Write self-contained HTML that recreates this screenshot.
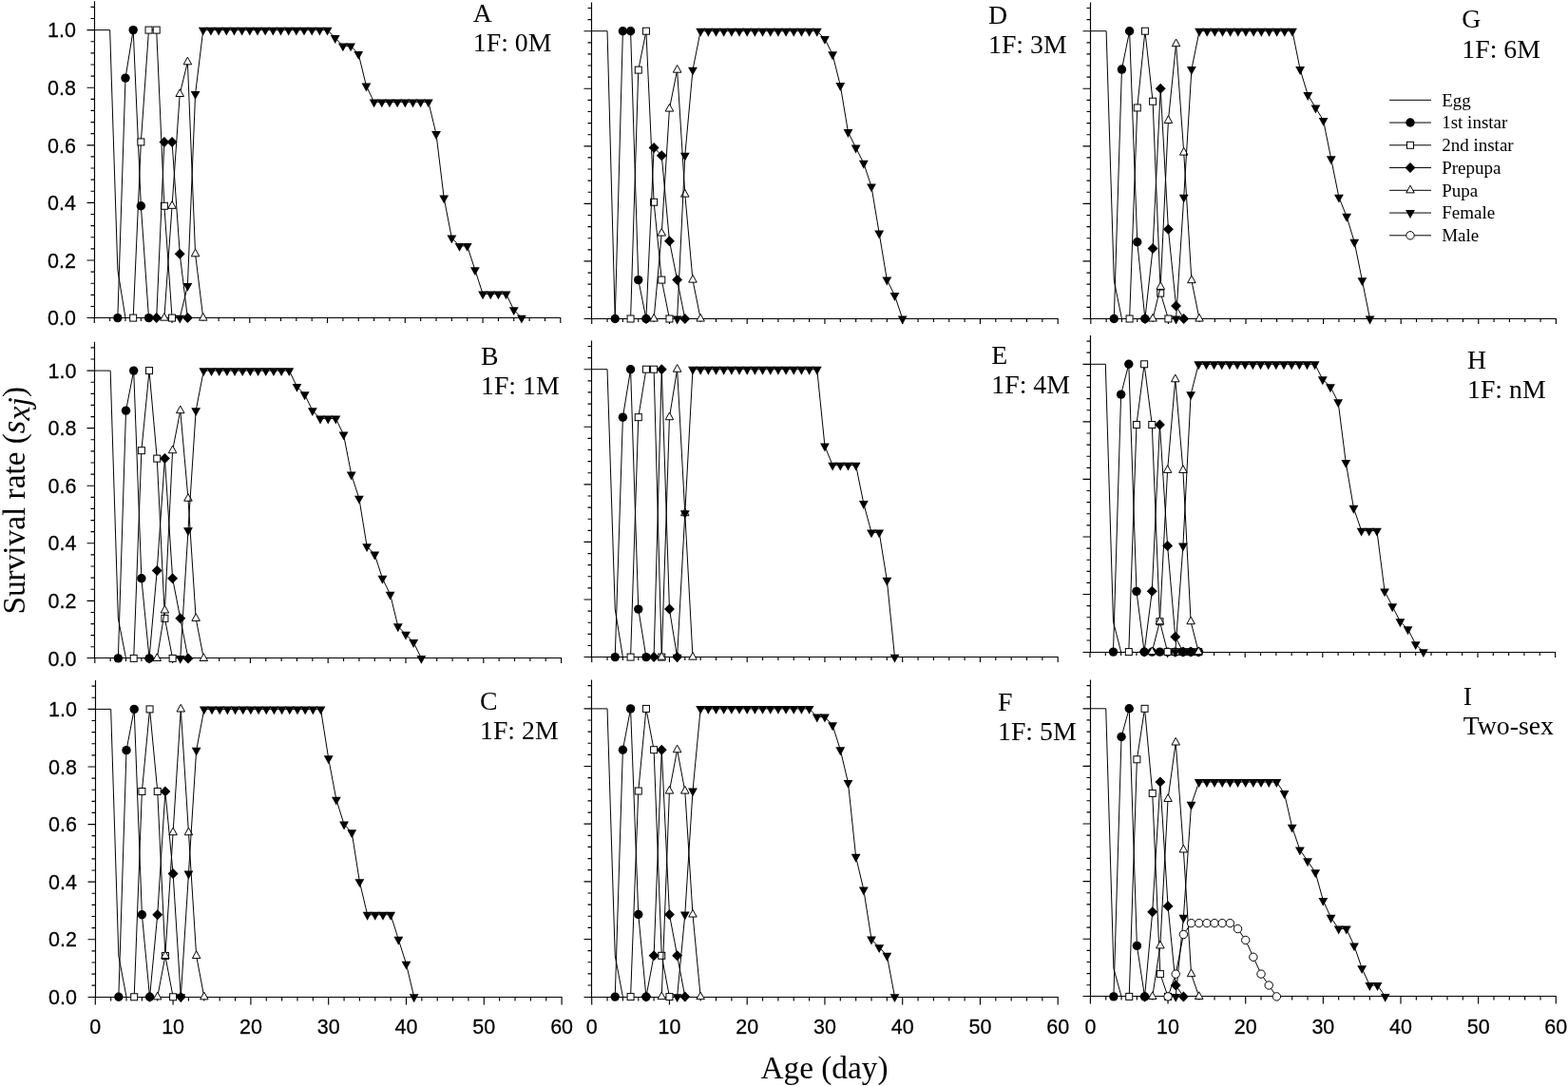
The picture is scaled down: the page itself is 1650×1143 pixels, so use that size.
<!DOCTYPE html>
<html lang="en"><head><meta charset="utf-8"><title>Age-stage survival rate</title>
<style>html,body{margin:0;padding:0;background:#fff}svg{display:block}text{fill:#000}.t{font-family:'Liberation Sans', Arial, Helvetica, sans-serif;font-size:21.5px;stroke:#000;stroke-width:0.25px}.p{font-family:'Liberation Serif', 'Times New Roman', Times, serif;font-size:27.8px}.l{font-family:'Liberation Serif', 'Times New Roman', Times, serif;font-size:19px}.a{font-family:'Liberation Serif', 'Times New Roman', Times, serif;font-size:33.3px}</style>
</head><body>
<svg width="1650" height="1143" viewBox="0 0 1650 1143">
<rect width="1650" height="1143" fill="#fff"/>
<g id="panel-A">
<path d="M99.5 1.3V334.5M91.5 334.5H590.3M95.5 322.48H99.5M95.5 310.36H99.5M95.5 298.24H99.5M95.5 286.12H99.5M91.5 274H99.5M95.5 261.88H99.5M95.5 249.76H99.5M95.5 237.64H99.5M95.5 225.52H99.5M91.5 213.4H99.5M95.5 201.28H99.5M95.5 189.16H99.5M95.5 177.04H99.5M95.5 164.92H99.5M91.5 152.8H99.5M95.5 140.68H99.5M95.5 128.56H99.5M95.5 116.44H99.5M95.5 104.32H99.5M91.5 92.2H99.5M95.5 80.08H99.5M95.5 67.96H99.5M95.5 55.84H99.5M95.5 43.72H99.5M91.5 31.6H99.5M95.5 19.48H99.5M95.5 7.36H99.5M99.3 334.5V340M115.65 334.5V338.1M132 334.5V338.1M148.35 334.5V338.1M164.7 334.5V338.1M181.05 334.5V340M197.4 334.5V338.1M213.75 334.5V338.1M230.1 334.5V338.1M246.45 334.5V338.1M262.8 334.5V340M279.15 334.5V338.1M295.5 334.5V338.1M311.85 334.5V338.1M328.2 334.5V338.1M344.55 334.5V340M360.9 334.5V338.1M377.25 334.5V338.1M393.6 334.5V338.1M409.95 334.5V338.1M426.3 334.5V340M442.65 334.5V338.1M459 334.5V338.1M475.35 334.5V338.1M491.7 334.5V338.1M508.05 334.5V340M524.4 334.5V338.1M540.75 334.5V338.1M557.1 334.5V338.1M573.45 334.5V338.1M589.8 334.5V340" fill="none" stroke="#000" stroke-width="1.15"/>
<text class="t" transform="translate(80 342.3) scale(1 1.04)" text-anchor="end">0.0</text>
<text class="t" transform="translate(80 281.7) scale(1 1.04)" text-anchor="end">0.2</text>
<text class="t" transform="translate(80 221.1) scale(1 1.04)" text-anchor="end">0.4</text>
<text class="t" transform="translate(80 160.5) scale(1 1.04)" text-anchor="end">0.6</text>
<text class="t" transform="translate(80 99.9) scale(1 1.04)" text-anchor="end">0.8</text>
<text class="t" transform="translate(80 39.3) scale(1 1.04)" text-anchor="end">1.0</text>
<polyline points="99.3,31.6 115.65,31.6 123.83,284.1 132,334.6" fill="none" stroke="#000" stroke-width="1.0" stroke-linejoin="round"/>
<polyline points="123.83,334.6 132,82.1 140.18,31.6 148.35,216.77 156.53,334.6" fill="none" stroke="#000" stroke-width="1.0" stroke-linejoin="round"/>
<circle cx="123.83" cy="334.6" r="4.7" fill="#000"/><circle cx="132" cy="82.1" r="4.7" fill="#000"/><circle cx="140.18" cy="31.6" r="4.7" fill="#000"/><circle cx="148.35" cy="216.77" r="4.7" fill="#000"/><circle cx="156.53" cy="334.6" r="4.7" fill="#000"/>
<polyline points="140.18,334.6 148.35,149.43 156.53,31.6 164.7,31.6 172.88,216.77 181.05,334.6" fill="none" stroke="#000" stroke-width="1.0" stroke-linejoin="round"/>
<rect x="136.68" y="331.1" width="7" height="7" fill="#fff" stroke="#000" stroke-width="1"/><rect x="144.85" y="145.93" width="7" height="7" fill="#fff" stroke="#000" stroke-width="1"/><rect x="153.03" y="28.1" width="7" height="7" fill="#fff" stroke="#000" stroke-width="1"/><rect x="161.2" y="28.1" width="7" height="7" fill="#fff" stroke="#000" stroke-width="1"/><rect x="169.38" y="213.27" width="7" height="7" fill="#fff" stroke="#000" stroke-width="1"/><rect x="177.55" y="331.1" width="7" height="7" fill="#fff" stroke="#000" stroke-width="1"/>
<polyline points="164.7,334.6 172.88,149.43 181.05,149.43 189.23,267.27 197.4,334.6" fill="none" stroke="#000" stroke-width="1.0" stroke-linejoin="round"/>
<polygon points="164.7,329.1 170.15,334.6 164.7,340.1 159.25,334.6" fill="#000"/><polygon points="172.88,143.93 178.32,149.43 172.88,154.93 167.43,149.43" fill="#000"/><polygon points="181.05,143.93 186.5,149.43 181.05,154.93 175.6,149.43" fill="#000"/><polygon points="189.23,261.77 194.68,267.27 189.23,272.77 183.78,267.27" fill="#000"/><polygon points="197.4,329.1 202.85,334.6 197.4,340.1 191.95,334.6" fill="#000"/>
<polyline points="172.88,334.6 181.05,216.77 189.23,98.93 197.4,65.27 205.57,267.27 213.75,334.6" fill="none" stroke="#000" stroke-width="1.0" stroke-linejoin="round"/>
<polygon points="172.88,329.5 168.62,337.17 177.13,337.17" fill="#fff" stroke="#000" stroke-width="1" stroke-linejoin="miter"/><polygon points="181.05,211.66 176.8,219.33 185.3,219.33" fill="#fff" stroke="#000" stroke-width="1" stroke-linejoin="miter"/><polygon points="189.23,93.83 184.97,101.5 193.48,101.5" fill="#fff" stroke="#000" stroke-width="1" stroke-linejoin="miter"/><polygon points="197.4,60.16 193.15,67.83 201.65,67.83" fill="#fff" stroke="#000" stroke-width="1" stroke-linejoin="miter"/><polygon points="205.57,262.16 201.32,269.83 209.83,269.83" fill="#fff" stroke="#000" stroke-width="1" stroke-linejoin="miter"/><polygon points="213.75,329.5 209.5,337.17 218,337.17" fill="#fff" stroke="#000" stroke-width="1" stroke-linejoin="miter"/>
<polyline points="189.23,334.6 197.4,300.93 205.57,98.93 213.75,31.6 221.93,31.6 230.1,31.6 238.28,31.6 246.45,31.6 254.62,31.6 262.8,31.6 270.98,31.6 279.15,31.6 287.32,31.6 295.5,31.6 303.68,31.6 311.85,31.6 320.03,31.6 328.2,31.6 336.38,31.6 344.55,31.6 352.73,40.02 360.9,48.43 369.08,48.43 377.25,56.85 385.43,90.52 393.6,107.35 401.78,107.35 409.95,107.35 418.13,107.35 426.3,107.35 434.48,107.35 442.65,107.35 450.83,107.35 459,141.02 467.18,208.35 475.35,250.43 483.53,258.85 491.7,258.85 499.88,284.1 508.05,309.35 516.23,309.35 524.4,309.35 532.58,309.35 540.75,326.18 548.93,334.6" fill="none" stroke="#000" stroke-width="1.0" stroke-linejoin="round"/>
<polygon points="184.33,331.63 194.13,331.63 189.23,340.53" fill="#000"/><polygon points="192.5,297.97 202.3,297.97 197.4,306.87" fill="#000"/><polygon points="200.67,95.97 210.47,95.97 205.57,104.87" fill="#000"/><polygon points="208.85,28.63 218.65,28.63 213.75,37.53" fill="#000"/><polygon points="217.03,28.63 226.83,28.63 221.93,37.53" fill="#000"/><polygon points="225.2,28.63 235,28.63 230.1,37.53" fill="#000"/><polygon points="233.38,28.63 243.18,28.63 238.28,37.53" fill="#000"/><polygon points="241.55,28.63 251.35,28.63 246.45,37.53" fill="#000"/><polygon points="249.72,28.63 259.52,28.63 254.62,37.53" fill="#000"/><polygon points="257.9,28.63 267.7,28.63 262.8,37.53" fill="#000"/><polygon points="266.08,28.63 275.88,28.63 270.98,37.53" fill="#000"/><polygon points="274.25,28.63 284.05,28.63 279.15,37.53" fill="#000"/><polygon points="282.43,28.63 292.22,28.63 287.32,37.53" fill="#000"/><polygon points="290.6,28.63 300.4,28.63 295.5,37.53" fill="#000"/><polygon points="298.78,28.63 308.57,28.63 303.68,37.53" fill="#000"/><polygon points="306.95,28.63 316.75,28.63 311.85,37.53" fill="#000"/><polygon points="315.13,28.63 324.93,28.63 320.03,37.53" fill="#000"/><polygon points="323.3,28.63 333.1,28.63 328.2,37.53" fill="#000"/><polygon points="331.48,28.63 341.27,28.63 336.38,37.53" fill="#000"/><polygon points="339.65,28.63 349.45,28.63 344.55,37.53" fill="#000"/><polygon points="347.83,37.05 357.62,37.05 352.73,45.95" fill="#000"/><polygon points="356,45.47 365.8,45.47 360.9,54.37" fill="#000"/><polygon points="364.18,45.47 373.98,45.47 369.08,54.37" fill="#000"/><polygon points="372.35,53.88 382.15,53.88 377.25,62.78" fill="#000"/><polygon points="380.53,87.55 390.32,87.55 385.43,96.45" fill="#000"/><polygon points="388.7,104.38 398.5,104.38 393.6,113.28" fill="#000"/><polygon points="396.88,104.38 406.68,104.38 401.78,113.28" fill="#000"/><polygon points="405.05,104.38 414.85,104.38 409.95,113.28" fill="#000"/><polygon points="413.23,104.38 423.03,104.38 418.13,113.28" fill="#000"/><polygon points="421.4,104.38 431.2,104.38 426.3,113.28" fill="#000"/><polygon points="429.58,104.38 439.38,104.38 434.48,113.28" fill="#000"/><polygon points="437.75,104.38 447.55,104.38 442.65,113.28" fill="#000"/><polygon points="445.93,104.38 455.73,104.38 450.83,113.28" fill="#000"/><polygon points="454.1,138.05 463.9,138.05 459,146.95" fill="#000"/><polygon points="462.28,205.38 472.08,205.38 467.18,214.28" fill="#000"/><polygon points="470.45,247.47 480.25,247.47 475.35,256.37" fill="#000"/><polygon points="478.63,255.88 488.43,255.88 483.53,264.78" fill="#000"/><polygon points="486.8,255.88 496.6,255.88 491.7,264.78" fill="#000"/><polygon points="494.98,281.13 504.78,281.13 499.88,290.03" fill="#000"/><polygon points="503.15,306.38 512.95,306.38 508.05,315.28" fill="#000"/><polygon points="511.33,306.38 521.12,306.38 516.23,315.28" fill="#000"/><polygon points="519.5,306.38 529.3,306.38 524.4,315.28" fill="#000"/><polygon points="527.68,306.38 537.48,306.38 532.58,315.28" fill="#000"/><polygon points="535.85,323.22 545.65,323.22 540.75,332.12" fill="#000"/><polygon points="544.03,331.63 553.83,331.63 548.93,340.53" fill="#000"/>
<text class="p" x="497.8" y="23.1">A</text>
<text class="p" x="497.8" y="54.4">1F: 0M</text>
</g>
<g id="panel-B">
<path d="M99.5 359.82V692.5M91.5 692.5H591.1M95.5 680.79H99.5M95.5 668.68H99.5M95.5 656.56H99.5M95.5 644.45H99.5M91.5 632.34H99.5M95.5 620.23H99.5M95.5 608.12H99.5M95.5 596H99.5M95.5 583.89H99.5M91.5 571.78H99.5M95.5 559.67H99.5M95.5 547.56H99.5M95.5 535.44H99.5M95.5 523.33H99.5M91.5 511.22H99.5M95.5 499.11H99.5M95.5 487H99.5M95.5 474.88H99.5M95.5 462.77H99.5M91.5 450.66H99.5M95.5 438.55H99.5M95.5 426.44H99.5M95.5 414.32H99.5M95.5 402.21H99.5M91.5 390.1H99.5M95.5 377.99H99.5M95.5 365.88H99.5M99.8 692.5V698M116.16 692.5V696.1M132.52 692.5V696.1M148.88 692.5V696.1M165.24 692.5V696.1M181.6 692.5V698M197.96 692.5V696.1M214.32 692.5V696.1M230.68 692.5V696.1M247.04 692.5V696.1M263.4 692.5V698M279.76 692.5V696.1M296.12 692.5V696.1M312.48 692.5V696.1M328.84 692.5V696.1M345.2 692.5V698M361.56 692.5V696.1M377.92 692.5V696.1M394.28 692.5V696.1M410.64 692.5V696.1M427 692.5V698M443.36 692.5V696.1M459.72 692.5V696.1M476.08 692.5V696.1M492.44 692.5V696.1M508.8 692.5V698M525.16 692.5V696.1M541.52 692.5V696.1M557.88 692.5V696.1M574.24 692.5V696.1M590.6 692.5V698" fill="none" stroke="#000" stroke-width="1.15"/>
<text class="t" transform="translate(80.5 700.6) scale(1 1.04)" text-anchor="end">0.0</text>
<text class="t" transform="translate(80.5 640.04) scale(1 1.04)" text-anchor="end">0.2</text>
<text class="t" transform="translate(80.5 579.48) scale(1 1.04)" text-anchor="end">0.4</text>
<text class="t" transform="translate(80.5 518.92) scale(1 1.04)" text-anchor="end">0.6</text>
<text class="t" transform="translate(80.5 458.36) scale(1 1.04)" text-anchor="end">0.8</text>
<text class="t" transform="translate(80.5 397.8) scale(1 1.04)" text-anchor="end">1.0</text>
<polyline points="99.8,390.1 116.16,390.1 124.34,650.84 132.52,692.9" fill="none" stroke="#000" stroke-width="1.0" stroke-linejoin="round"/>
<polyline points="124.34,692.9 132.52,432.16 140.7,390.1 148.88,608.79 157.06,692.9" fill="none" stroke="#000" stroke-width="1.0" stroke-linejoin="round"/>
<circle cx="124.34" cy="692.9" r="4.7" fill="#000"/><circle cx="132.52" cy="432.16" r="4.7" fill="#000"/><circle cx="140.7" cy="390.1" r="4.7" fill="#000"/><circle cx="148.88" cy="608.79" r="4.7" fill="#000"/><circle cx="157.06" cy="692.9" r="4.7" fill="#000"/>
<polyline points="140.7,692.9 148.88,474.21 157.06,390.1 165.24,482.62 173.42,650.84 181.6,692.9" fill="none" stroke="#000" stroke-width="1.0" stroke-linejoin="round"/>
<rect x="137.2" y="689.4" width="7" height="7" fill="#fff" stroke="#000" stroke-width="1"/><rect x="145.38" y="470.71" width="7" height="7" fill="#fff" stroke="#000" stroke-width="1"/><rect x="153.56" y="386.6" width="7" height="7" fill="#fff" stroke="#000" stroke-width="1"/><rect x="161.74" y="479.12" width="7" height="7" fill="#fff" stroke="#000" stroke-width="1"/><rect x="169.92" y="647.34" width="7" height="7" fill="#fff" stroke="#000" stroke-width="1"/><rect x="178.1" y="689.4" width="7" height="7" fill="#fff" stroke="#000" stroke-width="1"/>
<polyline points="157.06,692.9 165.24,600.38 173.42,482.62 181.6,608.79 189.78,650.84 197.96,692.9" fill="none" stroke="#000" stroke-width="1.0" stroke-linejoin="round"/>
<polygon points="157.06,687.4 162.51,692.9 157.06,698.4 151.61,692.9" fill="#000"/><polygon points="165.24,594.88 170.69,600.38 165.24,605.88 159.79,600.38" fill="#000"/><polygon points="173.42,477.12 178.87,482.62 173.42,488.12 167.97,482.62" fill="#000"/><polygon points="181.6,603.29 187.05,608.79 181.6,614.29 176.15,608.79" fill="#000"/><polygon points="189.78,645.34 195.23,650.84 189.78,656.34 184.33,650.84" fill="#000"/><polygon points="197.96,687.4 203.41,692.9 197.96,698.4 192.51,692.9" fill="#000"/>
<polyline points="165.24,692.9 173.42,642.43 181.6,474.21 189.78,432.16 197.96,524.68 206.14,650.84 214.32,692.9" fill="none" stroke="#000" stroke-width="1.0" stroke-linejoin="round"/>
<polygon points="165.24,687.8 160.99,695.47 169.49,695.47" fill="#fff" stroke="#000" stroke-width="1" stroke-linejoin="miter"/><polygon points="173.42,637.33 169.17,645 177.67,645" fill="#fff" stroke="#000" stroke-width="1" stroke-linejoin="miter"/><polygon points="181.6,469.11 177.35,476.78 185.85,476.78" fill="#fff" stroke="#000" stroke-width="1" stroke-linejoin="miter"/><polygon points="189.78,427.05 185.53,434.72 194.03,434.72" fill="#fff" stroke="#000" stroke-width="1" stroke-linejoin="miter"/><polygon points="197.96,519.58 193.71,527.24 202.21,527.24" fill="#fff" stroke="#000" stroke-width="1" stroke-linejoin="miter"/><polygon points="206.14,645.74 201.89,653.41 210.39,653.41" fill="#fff" stroke="#000" stroke-width="1" stroke-linejoin="miter"/><polygon points="214.32,687.8 210.07,695.47 218.57,695.47" fill="#fff" stroke="#000" stroke-width="1" stroke-linejoin="miter"/>
<polyline points="189.78,692.9 197.96,558.32 206.14,432.16 214.32,390.1 222.5,390.1 230.68,390.1 238.86,390.1 247.04,390.1 255.22,390.1 263.4,390.1 271.58,390.1 279.76,390.1 287.94,390.1 296.12,390.1 304.3,390.1 312.48,406.92 320.66,415.33 328.84,432.16 337.02,440.57 345.2,440.57 353.38,440.57 361.56,457.39 369.74,499.44 377.92,524.68 386.1,575.14 394.28,583.56 402.46,608.79 410.64,625.61 418.82,659.26 427,667.67 435.18,676.08 443.36,692.9" fill="none" stroke="#000" stroke-width="1.0" stroke-linejoin="round"/>
<polygon points="184.88,689.93 194.68,689.93 189.78,698.83" fill="#000"/><polygon points="193.06,555.36 202.86,555.36 197.96,564.26" fill="#000"/><polygon points="201.24,429.19 211.04,429.19 206.14,438.09" fill="#000"/><polygon points="209.42,387.13 219.22,387.13 214.32,396.03" fill="#000"/><polygon points="217.6,387.13 227.4,387.13 222.5,396.03" fill="#000"/><polygon points="225.78,387.13 235.58,387.13 230.68,396.03" fill="#000"/><polygon points="233.96,387.13 243.76,387.13 238.86,396.03" fill="#000"/><polygon points="242.14,387.13 251.94,387.13 247.04,396.03" fill="#000"/><polygon points="250.32,387.13 260.12,387.13 255.22,396.03" fill="#000"/><polygon points="258.5,387.13 268.3,387.13 263.4,396.03" fill="#000"/><polygon points="266.68,387.13 276.48,387.13 271.58,396.03" fill="#000"/><polygon points="274.86,387.13 284.66,387.13 279.76,396.03" fill="#000"/><polygon points="283.04,387.13 292.84,387.13 287.94,396.03" fill="#000"/><polygon points="291.22,387.13 301.02,387.13 296.12,396.03" fill="#000"/><polygon points="299.4,387.13 309.2,387.13 304.3,396.03" fill="#000"/><polygon points="307.58,403.96 317.38,403.96 312.48,412.86" fill="#000"/><polygon points="315.76,412.37 325.56,412.37 320.66,421.27" fill="#000"/><polygon points="323.94,429.19 333.74,429.19 328.84,438.09" fill="#000"/><polygon points="332.12,437.6 341.92,437.6 337.02,446.5" fill="#000"/><polygon points="340.3,437.6 350.1,437.6 345.2,446.5" fill="#000"/><polygon points="348.48,437.6 358.28,437.6 353.38,446.5" fill="#000"/><polygon points="356.66,454.42 366.46,454.42 361.56,463.32" fill="#000"/><polygon points="364.84,496.48 374.64,496.48 369.74,505.38" fill="#000"/><polygon points="373.02,521.71 382.82,521.71 377.92,530.61" fill="#000"/><polygon points="381.2,572.18 391,572.18 386.1,581.08" fill="#000"/><polygon points="389.38,580.59 399.18,580.59 394.28,589.49" fill="#000"/><polygon points="397.56,605.82 407.36,605.82 402.46,614.72" fill="#000"/><polygon points="405.74,622.64 415.54,622.64 410.64,631.54" fill="#000"/><polygon points="413.92,656.29 423.72,656.29 418.82,665.19" fill="#000"/><polygon points="422.1,664.7 431.9,664.7 427,673.6" fill="#000"/><polygon points="430.28,673.11 440.08,673.11 435.18,682.01" fill="#000"/><polygon points="438.46,689.93 448.26,689.93 443.36,698.83" fill="#000"/>
<text class="p" x="506" y="383.5">B</text>
<text class="p" x="506" y="414.8">1F: 1M</text>
</g>
<g id="panel-C">
<path d="M100.5 716.11V1049.5M92.5 1049.5H591.6M96.5 1037.18H100.5M96.5 1025.07H100.5M96.5 1012.95H100.5M96.5 1000.84H100.5M92.5 988.72H100.5M96.5 976.6H100.5M96.5 964.49H100.5M96.5 952.37H100.5M96.5 940.26H100.5M92.5 928.14H100.5M96.5 916.02H100.5M96.5 903.91H100.5M96.5 891.79H100.5M96.5 879.68H100.5M92.5 867.56H100.5M96.5 855.44H100.5M96.5 843.33H100.5M96.5 831.21H100.5M96.5 819.1H100.5M92.5 806.98H100.5M96.5 794.86H100.5M96.5 782.75H100.5M96.5 770.63H100.5M96.5 758.52H100.5M92.5 746.4H100.5M96.5 734.28H100.5M96.5 722.17H100.5M100.3 1049.5V1057.5M116.66 1049.5V1053.5M133.02 1049.5V1053.5M149.38 1049.5V1053.5M165.74 1049.5V1053.5M182.1 1049.5V1057.5M198.46 1049.5V1053.5M214.82 1049.5V1053.5M231.18 1049.5V1053.5M247.54 1049.5V1053.5M263.9 1049.5V1057.5M280.26 1049.5V1053.5M296.62 1049.5V1053.5M312.98 1049.5V1053.5M329.34 1049.5V1053.5M345.7 1049.5V1057.5M362.06 1049.5V1053.5M378.42 1049.5V1053.5M394.78 1049.5V1053.5M411.14 1049.5V1053.5M427.5 1049.5V1057.5M443.86 1049.5V1053.5M460.22 1049.5V1053.5M476.58 1049.5V1053.5M492.94 1049.5V1053.5M509.3 1049.5V1057.5M525.66 1049.5V1053.5M542.02 1049.5V1053.5M558.38 1049.5V1053.5M574.74 1049.5V1053.5M591.1 1049.5V1057.5" fill="none" stroke="#000" stroke-width="1.15"/>
<text class="t" transform="translate(81 1057) scale(1 1.04)" text-anchor="end">0.0</text>
<text class="t" transform="translate(81 996.42) scale(1 1.04)" text-anchor="end">0.2</text>
<text class="t" transform="translate(81 935.84) scale(1 1.04)" text-anchor="end">0.4</text>
<text class="t" transform="translate(81 875.26) scale(1 1.04)" text-anchor="end">0.6</text>
<text class="t" transform="translate(81 814.68) scale(1 1.04)" text-anchor="end">0.8</text>
<text class="t" transform="translate(81 754.1) scale(1 1.04)" text-anchor="end">1.0</text>
<text class="t" transform="translate(100.3 1087.9) scale(1 1.04)" text-anchor="middle">0</text>
<text class="t" transform="translate(182.1 1087.9) scale(1 1.04)" text-anchor="middle">10</text>
<text class="t" transform="translate(263.9 1087.9) scale(1 1.04)" text-anchor="middle">20</text>
<text class="t" transform="translate(345.7 1087.9) scale(1 1.04)" text-anchor="middle">30</text>
<text class="t" transform="translate(427.5 1087.9) scale(1 1.04)" text-anchor="middle">40</text>
<text class="t" transform="translate(509.3 1087.9) scale(1 1.04)" text-anchor="middle">50</text>
<text class="t" transform="translate(591.1 1087.9) scale(1 1.04)" text-anchor="middle">60</text>
<polyline points="100.3,746.4 116.66,746.4 124.84,1006.03 133.02,1049.3" fill="none" stroke="#000" stroke-width="1.0" stroke-linejoin="round"/>
<polyline points="124.84,1049.3 133.02,789.67 141.2,746.4 149.38,962.76 157.56,1049.3" fill="none" stroke="#000" stroke-width="1.0" stroke-linejoin="round"/>
<circle cx="124.84" cy="1049.3" r="4.7" fill="#000"/><circle cx="133.02" cy="789.67" r="4.7" fill="#000"/><circle cx="141.2" cy="746.4" r="4.7" fill="#000"/><circle cx="149.38" cy="962.76" r="4.7" fill="#000"/><circle cx="157.56" cy="1049.3" r="4.7" fill="#000"/>
<polyline points="141.2,1049.3 149.38,832.94 157.56,746.4 165.74,832.94 173.92,1006.03 182.1,1049.3" fill="none" stroke="#000" stroke-width="1.0" stroke-linejoin="round"/>
<rect x="137.7" y="1045.8" width="7" height="7" fill="#fff" stroke="#000" stroke-width="1"/><rect x="145.88" y="829.44" width="7" height="7" fill="#fff" stroke="#000" stroke-width="1"/><rect x="154.06" y="742.9" width="7" height="7" fill="#fff" stroke="#000" stroke-width="1"/><rect x="162.24" y="829.44" width="7" height="7" fill="#fff" stroke="#000" stroke-width="1"/><rect x="170.42" y="1002.53" width="7" height="7" fill="#fff" stroke="#000" stroke-width="1"/><rect x="178.6" y="1045.8" width="7" height="7" fill="#fff" stroke="#000" stroke-width="1"/>
<polyline points="157.56,1049.3 165.74,962.76 173.92,832.94 182.1,919.49 190.28,1049.3" fill="none" stroke="#000" stroke-width="1.0" stroke-linejoin="round"/>
<polygon points="157.56,1043.8 163.01,1049.3 157.56,1054.8 152.11,1049.3" fill="#000"/><polygon points="165.74,957.26 171.19,962.76 165.74,968.26 160.29,962.76" fill="#000"/><polygon points="173.92,827.44 179.37,832.94 173.92,838.44 168.47,832.94" fill="#000"/><polygon points="182.1,913.99 187.55,919.49 182.1,924.99 176.65,919.49" fill="#000"/><polygon points="190.28,1043.8 195.73,1049.3 190.28,1054.8 184.83,1049.3" fill="#000"/>
<polyline points="165.74,1049.3 173.92,1006.03 182.1,876.21 190.28,746.4 198.46,876.21 206.64,1006.03 214.82,1049.3" fill="none" stroke="#000" stroke-width="1.0" stroke-linejoin="round"/>
<polygon points="165.74,1044.2 161.49,1051.87 169.99,1051.87" fill="#fff" stroke="#000" stroke-width="1" stroke-linejoin="miter"/><polygon points="173.92,1000.93 169.67,1008.6 178.17,1008.6" fill="#fff" stroke="#000" stroke-width="1" stroke-linejoin="miter"/><polygon points="182.1,871.11 177.85,878.78 186.35,878.78" fill="#fff" stroke="#000" stroke-width="1" stroke-linejoin="miter"/><polygon points="190.28,741.3 186.03,748.97 194.53,748.97" fill="#fff" stroke="#000" stroke-width="1" stroke-linejoin="miter"/><polygon points="198.46,871.11 194.21,878.78 202.71,878.78" fill="#fff" stroke="#000" stroke-width="1" stroke-linejoin="miter"/><polygon points="206.64,1000.93 202.39,1008.6 210.89,1008.6" fill="#fff" stroke="#000" stroke-width="1" stroke-linejoin="miter"/><polygon points="214.82,1044.2 210.57,1051.87 219.07,1051.87" fill="#fff" stroke="#000" stroke-width="1" stroke-linejoin="miter"/>
<polyline points="190.28,1049.3 198.46,919.49 206.64,789.67 214.82,746.4 223,746.4 231.18,746.4 239.36,746.4 247.54,746.4 255.72,746.4 263.9,746.4 272.08,746.4 280.26,746.4 288.44,746.4 296.62,746.4 304.8,746.4 312.98,746.4 321.16,746.4 329.34,746.4 337.52,746.4 345.7,798.33 353.88,841.6 362.06,867.56 370.24,876.21 378.42,928.14 386.6,962.76 394.78,962.76 402.96,962.76 411.14,962.76 419.32,988.72 427.5,1014.68 435.68,1049.3" fill="none" stroke="#000" stroke-width="1.0" stroke-linejoin="round"/>
<polygon points="185.38,1046.33 195.18,1046.33 190.28,1055.23" fill="#000"/><polygon points="193.56,916.52 203.36,916.52 198.46,925.42" fill="#000"/><polygon points="201.74,786.7 211.54,786.7 206.64,795.6" fill="#000"/><polygon points="209.92,743.43 219.72,743.43 214.82,752.33" fill="#000"/><polygon points="218.1,743.43 227.9,743.43 223,752.33" fill="#000"/><polygon points="226.28,743.43 236.08,743.43 231.18,752.33" fill="#000"/><polygon points="234.46,743.43 244.26,743.43 239.36,752.33" fill="#000"/><polygon points="242.64,743.43 252.44,743.43 247.54,752.33" fill="#000"/><polygon points="250.82,743.43 260.62,743.43 255.72,752.33" fill="#000"/><polygon points="259,743.43 268.8,743.43 263.9,752.33" fill="#000"/><polygon points="267.18,743.43 276.98,743.43 272.08,752.33" fill="#000"/><polygon points="275.36,743.43 285.16,743.43 280.26,752.33" fill="#000"/><polygon points="283.54,743.43 293.34,743.43 288.44,752.33" fill="#000"/><polygon points="291.72,743.43 301.52,743.43 296.62,752.33" fill="#000"/><polygon points="299.9,743.43 309.7,743.43 304.8,752.33" fill="#000"/><polygon points="308.08,743.43 317.88,743.43 312.98,752.33" fill="#000"/><polygon points="316.26,743.43 326.06,743.43 321.16,752.33" fill="#000"/><polygon points="324.44,743.43 334.24,743.43 329.34,752.33" fill="#000"/><polygon points="332.62,743.43 342.42,743.43 337.52,752.33" fill="#000"/><polygon points="340.8,795.36 350.6,795.36 345.7,804.26" fill="#000"/><polygon points="348.98,838.63 358.78,838.63 353.88,847.53" fill="#000"/><polygon points="357.16,864.59 366.96,864.59 362.06,873.49" fill="#000"/><polygon points="365.34,873.25 375.14,873.25 370.24,882.15" fill="#000"/><polygon points="373.52,925.17 383.32,925.17 378.42,934.07" fill="#000"/><polygon points="381.7,959.79 391.5,959.79 386.6,968.69" fill="#000"/><polygon points="389.88,959.79 399.68,959.79 394.78,968.69" fill="#000"/><polygon points="398.06,959.79 407.86,959.79 402.96,968.69" fill="#000"/><polygon points="406.24,959.79 416.04,959.79 411.14,968.69" fill="#000"/><polygon points="414.42,985.75 424.22,985.75 419.32,994.65" fill="#000"/><polygon points="422.6,1011.72 432.4,1011.72 427.5,1020.62" fill="#000"/><polygon points="430.78,1046.33 440.58,1046.33 435.68,1055.23" fill="#000"/>
<text class="p" x="505" y="746.6">C</text>
<text class="p" x="505" y="777.8">1F: 2M</text>
</g>
<g id="panel-D">
<path d="M622.5 2.42V335.5M614.5 335.5H1113.7M618.5 323.39H622.5M618.5 311.28H622.5M618.5 299.16H622.5M618.5 287.05H622.5M614.5 274.94H622.5M618.5 262.83H622.5M618.5 250.72H622.5M618.5 238.6H622.5M618.5 226.49H622.5M614.5 214.38H622.5M618.5 202.27H622.5M618.5 190.16H622.5M618.5 178.04H622.5M618.5 165.93H622.5M614.5 153.82H622.5M618.5 141.71H622.5M618.5 129.6H622.5M618.5 117.48H622.5M618.5 105.37H622.5M614.5 93.26H622.5M618.5 81.15H622.5M618.5 69.04H622.5M618.5 56.92H622.5M618.5 44.81H622.5M614.5 32.7H622.5M618.5 20.59H622.5M618.5 8.48H622.5M622.7 335.5V341M639.05 335.5V339.1M655.4 335.5V339.1M671.75 335.5V339.1M688.1 335.5V339.1M704.45 335.5V341M720.8 335.5V339.1M737.15 335.5V339.1M753.5 335.5V339.1M769.85 335.5V339.1M786.2 335.5V341M802.55 335.5V339.1M818.9 335.5V339.1M835.25 335.5V339.1M851.6 335.5V339.1M867.95 335.5V341M884.3 335.5V339.1M900.65 335.5V339.1M917 335.5V339.1M933.35 335.5V339.1M949.7 335.5V341M966.05 335.5V339.1M982.4 335.5V339.1M998.75 335.5V339.1M1015.1 335.5V339.1M1031.45 335.5V341M1047.8 335.5V339.1M1064.15 335.5V339.1M1080.5 335.5V339.1M1096.85 335.5V339.1M1113.2 335.5V341" fill="none" stroke="#000" stroke-width="1.15"/>
<polyline points="622.7,32.7 639.05,32.7 647.23,335.5" fill="none" stroke="#000" stroke-width="1.0" stroke-linejoin="round"/>
<polyline points="647.23,335.5 655.4,32.7 663.58,32.7 671.75,294.58 679.93,335.5" fill="none" stroke="#000" stroke-width="1.0" stroke-linejoin="round"/>
<circle cx="647.23" cy="335.5" r="4.7" fill="#000"/><circle cx="655.4" cy="32.7" r="4.7" fill="#000"/><circle cx="663.58" cy="32.7" r="4.7" fill="#000"/><circle cx="671.75" cy="294.58" r="4.7" fill="#000"/><circle cx="679.93" cy="335.5" r="4.7" fill="#000"/>
<polyline points="663.58,335.5 671.75,73.62 679.93,32.7 688.1,212.74 696.28,294.58 704.45,335.5" fill="none" stroke="#000" stroke-width="1.0" stroke-linejoin="round"/>
<rect x="660.08" y="332" width="7" height="7" fill="#fff" stroke="#000" stroke-width="1"/><rect x="668.25" y="70.12" width="7" height="7" fill="#fff" stroke="#000" stroke-width="1"/><rect x="676.43" y="29.2" width="7" height="7" fill="#fff" stroke="#000" stroke-width="1"/><rect x="684.6" y="209.24" width="7" height="7" fill="#fff" stroke="#000" stroke-width="1"/><rect x="692.78" y="291.08" width="7" height="7" fill="#fff" stroke="#000" stroke-width="1"/><rect x="700.95" y="332" width="7" height="7" fill="#fff" stroke="#000" stroke-width="1"/>
<polyline points="679.93,335.5 688.1,155.46 696.28,163.64 704.45,253.66 712.62,294.58 720.8,335.5" fill="none" stroke="#000" stroke-width="1.0" stroke-linejoin="round"/>
<polygon points="679.93,330 685.38,335.5 679.93,341 674.48,335.5" fill="#000"/><polygon points="688.1,149.96 693.55,155.46 688.1,160.96 682.65,155.46" fill="#000"/><polygon points="696.28,158.14 701.73,163.64 696.28,169.14 690.83,163.64" fill="#000"/><polygon points="704.45,248.16 709.9,253.66 704.45,259.16 699,253.66" fill="#000"/><polygon points="712.62,289.08 718.08,294.58 712.62,300.08 707.17,294.58" fill="#000"/><polygon points="720.8,330 726.25,335.5 720.8,341 715.35,335.5" fill="#000"/>
<polyline points="688.1,335.5 696.28,245.48 704.45,114.54 712.62,73.62 720.8,204.56 728.98,294.58 737.15,335.5" fill="none" stroke="#000" stroke-width="1.0" stroke-linejoin="round"/>
<polygon points="688.1,330.4 683.85,338.07 692.35,338.07" fill="#fff" stroke="#000" stroke-width="1" stroke-linejoin="miter"/><polygon points="696.28,240.38 692.02,248.05 700.53,248.05" fill="#fff" stroke="#000" stroke-width="1" stroke-linejoin="miter"/><polygon points="704.45,109.44 700.2,117.1 708.7,117.1" fill="#fff" stroke="#000" stroke-width="1" stroke-linejoin="miter"/><polygon points="712.62,68.52 708.37,76.19 716.88,76.19" fill="#fff" stroke="#000" stroke-width="1" stroke-linejoin="miter"/><polygon points="720.8,199.46 716.55,207.13 725.05,207.13" fill="#fff" stroke="#000" stroke-width="1" stroke-linejoin="miter"/><polygon points="728.98,289.48 724.72,297.15 733.23,297.15" fill="#fff" stroke="#000" stroke-width="1" stroke-linejoin="miter"/><polygon points="737.15,330.4 732.9,338.07 741.4,338.07" fill="#fff" stroke="#000" stroke-width="1" stroke-linejoin="miter"/>
<polyline points="712.62,335.5 720.8,163.64 728.98,73.62 737.15,32.7 745.33,32.7 753.5,32.7 761.68,32.7 769.85,32.7 778.03,32.7 786.2,32.7 794.38,32.7 802.55,32.7 810.73,32.7 818.9,32.7 827.08,32.7 835.25,32.7 843.43,32.7 851.6,32.7 859.78,32.7 867.95,40.88 876.12,57.25 884.3,89.99 892.48,139.09 900.65,155.46 908.83,171.82 917,196.38 925.18,245.48 933.35,294.58 941.53,310.95 949.7,335.5" fill="none" stroke="#000" stroke-width="1.0" stroke-linejoin="round"/>
<polygon points="707.73,332.53 717.52,332.53 712.62,341.43" fill="#000"/><polygon points="715.9,160.67 725.7,160.67 720.8,169.57" fill="#000"/><polygon points="724.08,70.65 733.88,70.65 728.98,79.55" fill="#000"/><polygon points="732.25,29.73 742.05,29.73 737.15,38.63" fill="#000"/><polygon points="740.43,29.73 750.23,29.73 745.33,38.63" fill="#000"/><polygon points="748.6,29.73 758.4,29.73 753.5,38.63" fill="#000"/><polygon points="756.78,29.73 766.58,29.73 761.68,38.63" fill="#000"/><polygon points="764.95,29.73 774.75,29.73 769.85,38.63" fill="#000"/><polygon points="773.13,29.73 782.93,29.73 778.03,38.63" fill="#000"/><polygon points="781.3,29.73 791.1,29.73 786.2,38.63" fill="#000"/><polygon points="789.48,29.73 799.27,29.73 794.38,38.63" fill="#000"/><polygon points="797.65,29.73 807.45,29.73 802.55,38.63" fill="#000"/><polygon points="805.83,29.73 815.62,29.73 810.73,38.63" fill="#000"/><polygon points="814,29.73 823.8,29.73 818.9,38.63" fill="#000"/><polygon points="822.18,29.73 831.98,29.73 827.08,38.63" fill="#000"/><polygon points="830.35,29.73 840.15,29.73 835.25,38.63" fill="#000"/><polygon points="838.53,29.73 848.33,29.73 843.43,38.63" fill="#000"/><polygon points="846.7,29.73 856.5,29.73 851.6,38.63" fill="#000"/><polygon points="854.88,29.73 864.68,29.73 859.78,38.63" fill="#000"/><polygon points="863.05,37.92 872.85,37.92 867.95,46.82" fill="#000"/><polygon points="871.23,54.28 881.02,54.28 876.12,63.18" fill="#000"/><polygon points="879.4,87.02 889.2,87.02 884.3,95.92" fill="#000"/><polygon points="887.58,136.12 897.38,136.12 892.48,145.02" fill="#000"/><polygon points="895.75,152.49 905.55,152.49 900.65,161.39" fill="#000"/><polygon points="903.93,168.86 913.73,168.86 908.83,177.76" fill="#000"/><polygon points="912.1,193.41 921.9,193.41 917,202.31" fill="#000"/><polygon points="920.28,242.51 930.08,242.51 925.18,251.41" fill="#000"/><polygon points="928.45,291.61 938.25,291.61 933.35,300.51" fill="#000"/><polygon points="936.63,307.98 946.43,307.98 941.53,316.88" fill="#000"/><polygon points="944.8,332.53 954.6,332.53 949.7,341.43" fill="#000"/>
<text class="p" x="1040" y="24.6">D</text>
<text class="p" x="1040" y="55.6">1F: 3M</text>
</g>
<g id="panel-E">
<path d="M622.5 358.41V691.5M614.5 691.5H1113.7M618.5 679.48H622.5M618.5 667.37H622.5M618.5 655.25H622.5M618.5 643.14H622.5M614.5 631.02H622.5M618.5 618.9H622.5M618.5 606.79H622.5M618.5 594.67H622.5M618.5 582.56H622.5M614.5 570.44H622.5M618.5 558.32H622.5M618.5 546.21H622.5M618.5 534.09H622.5M618.5 521.98H622.5M614.5 509.86H622.5M618.5 497.74H622.5M618.5 485.63H622.5M618.5 473.51H622.5M618.5 461.4H622.5M614.5 449.28H622.5M618.5 437.16H622.5M618.5 425.05H622.5M618.5 412.93H622.5M618.5 400.82H622.5M614.5 388.7H622.5M618.5 376.58H622.5M618.5 364.47H622.5M622.7 691.5V697M639.05 691.5V695.1M655.4 691.5V695.1M671.75 691.5V695.1M688.1 691.5V695.1M704.45 691.5V697M720.8 691.5V695.1M737.15 691.5V695.1M753.5 691.5V695.1M769.85 691.5V695.1M786.2 691.5V697M802.55 691.5V695.1M818.9 691.5V695.1M835.25 691.5V695.1M851.6 691.5V695.1M867.95 691.5V697M884.3 691.5V695.1M900.65 691.5V695.1M917 691.5V695.1M933.35 691.5V695.1M949.7 691.5V697M966.05 691.5V695.1M982.4 691.5V695.1M998.75 691.5V695.1M1015.1 691.5V695.1M1031.45 691.5V697M1047.8 691.5V695.1M1064.15 691.5V695.1M1080.5 691.5V695.1M1096.85 691.5V695.1M1113.2 691.5V697" fill="none" stroke="#000" stroke-width="1.15"/>
<polyline points="622.7,388.7 639.05,388.7 647.23,641.12 655.4,691.6" fill="none" stroke="#000" stroke-width="1.0" stroke-linejoin="round"/>
<polyline points="647.23,691.6 655.4,439.18 663.58,388.7 671.75,641.12 679.93,691.6" fill="none" stroke="#000" stroke-width="1.0" stroke-linejoin="round"/>
<circle cx="647.23" cy="691.6" r="4.7" fill="#000"/><circle cx="655.4" cy="439.18" r="4.7" fill="#000"/><circle cx="663.58" cy="388.7" r="4.7" fill="#000"/><circle cx="671.75" cy="641.12" r="4.7" fill="#000"/><circle cx="679.93" cy="691.6" r="4.7" fill="#000"/>
<polyline points="663.58,691.6 671.75,439.18 679.93,388.7 688.1,388.7 696.28,691.6" fill="none" stroke="#000" stroke-width="1.0" stroke-linejoin="round"/>
<rect x="660.08" y="688.1" width="7" height="7" fill="#fff" stroke="#000" stroke-width="1"/><rect x="668.25" y="435.68" width="7" height="7" fill="#fff" stroke="#000" stroke-width="1"/><rect x="676.43" y="385.2" width="7" height="7" fill="#fff" stroke="#000" stroke-width="1"/><rect x="684.6" y="385.2" width="7" height="7" fill="#fff" stroke="#000" stroke-width="1"/><rect x="692.78" y="688.1" width="7" height="7" fill="#fff" stroke="#000" stroke-width="1"/>
<polyline points="688.1,691.6 696.28,388.7 704.45,641.12 712.62,691.6" fill="none" stroke="#000" stroke-width="1.0" stroke-linejoin="round"/>
<polygon points="688.1,686.1 693.55,691.6 688.1,697.1 682.65,691.6" fill="#000"/><polygon points="696.28,383.2 701.73,388.7 696.28,394.2 690.83,388.7" fill="#000"/><polygon points="704.45,635.62 709.9,641.12 704.45,646.62 699,641.12" fill="#000"/><polygon points="712.62,686.1 718.08,691.6 712.62,697.1 707.17,691.6" fill="#000"/>
<polyline points="696.28,691.6 704.45,439.18 712.62,388.7 720.8,540.15 728.98,691.6" fill="none" stroke="#000" stroke-width="1.0" stroke-linejoin="round"/>
<polygon points="696.28,686.5 692.02,694.17 700.53,694.17" fill="#fff" stroke="#000" stroke-width="1" stroke-linejoin="miter"/><polygon points="704.45,434.08 700.2,441.75 708.7,441.75" fill="#fff" stroke="#000" stroke-width="1" stroke-linejoin="miter"/><polygon points="712.62,383.6 708.37,391.27 716.88,391.27" fill="#fff" stroke="#000" stroke-width="1" stroke-linejoin="miter"/><polygon points="720.8,535.05 716.55,542.72 725.05,542.72" fill="#fff" stroke="#000" stroke-width="1" stroke-linejoin="miter"/><polygon points="728.98,686.5 724.72,694.17 733.23,694.17" fill="#fff" stroke="#000" stroke-width="1" stroke-linejoin="miter"/>
<polyline points="712.62,691.6 720.8,540.15 728.98,388.7 737.15,388.7 745.33,388.7 753.5,388.7 761.68,388.7 769.85,388.7 778.03,388.7 786.2,388.7 794.38,388.7 802.55,388.7 810.73,388.7 818.9,388.7 827.08,388.7 835.25,388.7 843.43,388.7 851.6,388.7 859.78,388.7 867.95,469.47 876.12,489.67 884.3,489.67 892.48,489.67 900.65,489.67 908.83,530.05 917,560.34 925.18,560.34 933.35,610.83 941.53,691.6" fill="none" stroke="#000" stroke-width="1.0" stroke-linejoin="round"/>
<polygon points="707.73,688.63 717.52,688.63 712.62,697.53" fill="#000"/><polygon points="715.9,537.18 725.7,537.18 720.8,546.08" fill="#000"/><polygon points="724.08,385.73 733.88,385.73 728.98,394.63" fill="#000"/><polygon points="732.25,385.73 742.05,385.73 737.15,394.63" fill="#000"/><polygon points="740.43,385.73 750.23,385.73 745.33,394.63" fill="#000"/><polygon points="748.6,385.73 758.4,385.73 753.5,394.63" fill="#000"/><polygon points="756.78,385.73 766.58,385.73 761.68,394.63" fill="#000"/><polygon points="764.95,385.73 774.75,385.73 769.85,394.63" fill="#000"/><polygon points="773.13,385.73 782.93,385.73 778.03,394.63" fill="#000"/><polygon points="781.3,385.73 791.1,385.73 786.2,394.63" fill="#000"/><polygon points="789.48,385.73 799.27,385.73 794.38,394.63" fill="#000"/><polygon points="797.65,385.73 807.45,385.73 802.55,394.63" fill="#000"/><polygon points="805.83,385.73 815.62,385.73 810.73,394.63" fill="#000"/><polygon points="814,385.73 823.8,385.73 818.9,394.63" fill="#000"/><polygon points="822.18,385.73 831.98,385.73 827.08,394.63" fill="#000"/><polygon points="830.35,385.73 840.15,385.73 835.25,394.63" fill="#000"/><polygon points="838.53,385.73 848.33,385.73 843.43,394.63" fill="#000"/><polygon points="846.7,385.73 856.5,385.73 851.6,394.63" fill="#000"/><polygon points="854.88,385.73 864.68,385.73 859.78,394.63" fill="#000"/><polygon points="863.05,466.51 872.85,466.51 867.95,475.41" fill="#000"/><polygon points="871.23,486.7 881.02,486.7 876.12,495.6" fill="#000"/><polygon points="879.4,486.7 889.2,486.7 884.3,495.6" fill="#000"/><polygon points="887.58,486.7 897.38,486.7 892.48,495.6" fill="#000"/><polygon points="895.75,486.7 905.55,486.7 900.65,495.6" fill="#000"/><polygon points="903.93,527.09 913.73,527.09 908.83,535.99" fill="#000"/><polygon points="912.1,557.38 921.9,557.38 917,566.28" fill="#000"/><polygon points="920.28,557.38 930.08,557.38 925.18,566.28" fill="#000"/><polygon points="928.45,607.86 938.25,607.86 933.35,616.76" fill="#000"/><polygon points="936.63,688.63 946.43,688.63 941.53,697.53" fill="#000"/>
<text class="p" x="1043.3" y="382.6">E</text>
<text class="p" x="1043.3" y="413.5">1F: 4M</text>
</g>
<g id="panel-F">
<path d="M622.5 715.58V1049.5M614.5 1049.5H1113.7M618.5 1036.97H622.5M618.5 1024.84H622.5M618.5 1012.72H622.5M618.5 1000.59H622.5M614.5 988.46H622.5M618.5 976.33H622.5M618.5 964.2H622.5M618.5 952.08H622.5M618.5 939.95H622.5M614.5 927.82H622.5M618.5 915.69H622.5M618.5 903.56H622.5M618.5 891.44H622.5M618.5 879.31H622.5M614.5 867.18H622.5M618.5 855.05H622.5M618.5 842.92H622.5M618.5 830.8H622.5M618.5 818.67H622.5M614.5 806.54H622.5M618.5 794.41H622.5M618.5 782.28H622.5M618.5 770.16H622.5M618.5 758.03H622.5M614.5 745.9H622.5M618.5 733.77H622.5M618.5 721.64H622.5M622.7 1049.5V1057.5M639.05 1049.5V1053.5M655.4 1049.5V1053.5M671.75 1049.5V1053.5M688.1 1049.5V1053.5M704.45 1049.5V1057.5M720.8 1049.5V1053.5M737.15 1049.5V1053.5M753.5 1049.5V1053.5M769.85 1049.5V1053.5M786.2 1049.5V1057.5M802.55 1049.5V1053.5M818.9 1049.5V1053.5M835.25 1049.5V1053.5M851.6 1049.5V1053.5M867.95 1049.5V1057.5M884.3 1049.5V1053.5M900.65 1049.5V1053.5M917 1049.5V1053.5M933.35 1049.5V1053.5M949.7 1049.5V1057.5M966.05 1049.5V1053.5M982.4 1049.5V1053.5M998.75 1049.5V1053.5M1015.1 1049.5V1053.5M1031.45 1049.5V1057.5M1047.8 1049.5V1053.5M1064.15 1049.5V1053.5M1080.5 1049.5V1053.5M1096.85 1049.5V1053.5M1113.2 1049.5V1057.5" fill="none" stroke="#000" stroke-width="1.15"/>
<text class="t" transform="translate(622.7 1087.7) scale(1 1.04)" text-anchor="middle">0</text>
<text class="t" transform="translate(704.45 1087.7) scale(1 1.04)" text-anchor="middle">10</text>
<text class="t" transform="translate(786.2 1087.7) scale(1 1.04)" text-anchor="middle">20</text>
<text class="t" transform="translate(867.95 1087.7) scale(1 1.04)" text-anchor="middle">30</text>
<text class="t" transform="translate(949.7 1087.7) scale(1 1.04)" text-anchor="middle">40</text>
<text class="t" transform="translate(1031.45 1087.7) scale(1 1.04)" text-anchor="middle">50</text>
<text class="t" transform="translate(1113.2 1087.7) scale(1 1.04)" text-anchor="middle">60</text>
<polyline points="622.7,745.9 639.05,745.9 647.23,1005.79 655.4,1049.1" fill="none" stroke="#000" stroke-width="1.0" stroke-linejoin="round"/>
<polyline points="647.23,1049.1 655.4,789.21 663.58,745.9 671.75,962.47 679.93,1049.1" fill="none" stroke="#000" stroke-width="1.0" stroke-linejoin="round"/>
<circle cx="647.23" cy="1049.1" r="4.7" fill="#000"/><circle cx="655.4" cy="789.21" r="4.7" fill="#000"/><circle cx="663.58" cy="745.9" r="4.7" fill="#000"/><circle cx="671.75" cy="962.47" r="4.7" fill="#000"/><circle cx="679.93" cy="1049.1" r="4.7" fill="#000"/>
<polyline points="663.58,1049.1 671.75,832.53 679.93,745.9 688.1,789.21 696.28,1005.79 704.45,1049.1" fill="none" stroke="#000" stroke-width="1.0" stroke-linejoin="round"/>
<rect x="660.08" y="1045.6" width="7" height="7" fill="#fff" stroke="#000" stroke-width="1"/><rect x="668.25" y="829.03" width="7" height="7" fill="#fff" stroke="#000" stroke-width="1"/><rect x="676.43" y="742.4" width="7" height="7" fill="#fff" stroke="#000" stroke-width="1"/><rect x="684.6" y="785.71" width="7" height="7" fill="#fff" stroke="#000" stroke-width="1"/><rect x="692.78" y="1002.29" width="7" height="7" fill="#fff" stroke="#000" stroke-width="1"/><rect x="700.95" y="1045.6" width="7" height="7" fill="#fff" stroke="#000" stroke-width="1"/>
<polyline points="679.93,1049.1 688.1,1005.79 696.28,789.21 704.45,962.47 712.62,1005.79 720.8,1049.1" fill="none" stroke="#000" stroke-width="1.0" stroke-linejoin="round"/>
<polygon points="679.93,1043.6 685.38,1049.1 679.93,1054.6 674.48,1049.1" fill="#000"/><polygon points="688.1,1000.29 693.55,1005.79 688.1,1011.29 682.65,1005.79" fill="#000"/><polygon points="696.28,783.71 701.73,789.21 696.28,794.71 690.83,789.21" fill="#000"/><polygon points="704.45,956.97 709.9,962.47 704.45,967.97 699,962.47" fill="#000"/><polygon points="712.62,1000.29 718.08,1005.79 712.62,1011.29 707.17,1005.79" fill="#000"/><polygon points="720.8,1043.6 726.25,1049.1 720.8,1054.6 715.35,1049.1" fill="#000"/>
<polyline points="696.28,1049.1 704.45,832.53 712.62,789.21 720.8,832.53 728.98,962.47 737.15,1049.1" fill="none" stroke="#000" stroke-width="1.0" stroke-linejoin="round"/>
<polygon points="696.28,1044 692.02,1051.67 700.53,1051.67" fill="#fff" stroke="#000" stroke-width="1" stroke-linejoin="miter"/><polygon points="704.45,827.43 700.2,835.1 708.7,835.1" fill="#fff" stroke="#000" stroke-width="1" stroke-linejoin="miter"/><polygon points="712.62,784.11 708.37,791.78 716.88,791.78" fill="#fff" stroke="#000" stroke-width="1" stroke-linejoin="miter"/><polygon points="720.8,827.43 716.55,835.1 725.05,835.1" fill="#fff" stroke="#000" stroke-width="1" stroke-linejoin="miter"/><polygon points="728.98,957.37 724.72,965.04 733.23,965.04" fill="#fff" stroke="#000" stroke-width="1" stroke-linejoin="miter"/><polygon points="737.15,1044 732.9,1051.67 741.4,1051.67" fill="#fff" stroke="#000" stroke-width="1" stroke-linejoin="miter"/>
<polyline points="712.62,1049.1 720.8,962.47 728.98,832.53 737.15,745.9 745.33,745.9 753.5,745.9 761.68,745.9 769.85,745.9 778.03,745.9 786.2,745.9 794.38,745.9 802.55,745.9 810.73,745.9 818.9,745.9 827.08,745.9 835.25,745.9 843.43,745.9 851.6,745.9 859.78,754.56 867.95,754.56 876.12,763.23 884.3,789.21 892.48,823.87 900.65,901.83 908.83,936.48 917,988.46 925.18,997.12 933.35,1005.79 941.53,1049.1" fill="none" stroke="#000" stroke-width="1.0" stroke-linejoin="round"/>
<polygon points="707.73,1046.13 717.52,1046.13 712.62,1055.03" fill="#000"/><polygon points="715.9,959.5 725.7,959.5 720.8,968.4" fill="#000"/><polygon points="724.08,829.56 733.88,829.56 728.98,838.46" fill="#000"/><polygon points="732.25,742.93 742.05,742.93 737.15,751.83" fill="#000"/><polygon points="740.43,742.93 750.23,742.93 745.33,751.83" fill="#000"/><polygon points="748.6,742.93 758.4,742.93 753.5,751.83" fill="#000"/><polygon points="756.78,742.93 766.58,742.93 761.68,751.83" fill="#000"/><polygon points="764.95,742.93 774.75,742.93 769.85,751.83" fill="#000"/><polygon points="773.13,742.93 782.93,742.93 778.03,751.83" fill="#000"/><polygon points="781.3,742.93 791.1,742.93 786.2,751.83" fill="#000"/><polygon points="789.48,742.93 799.27,742.93 794.38,751.83" fill="#000"/><polygon points="797.65,742.93 807.45,742.93 802.55,751.83" fill="#000"/><polygon points="805.83,742.93 815.62,742.93 810.73,751.83" fill="#000"/><polygon points="814,742.93 823.8,742.93 818.9,751.83" fill="#000"/><polygon points="822.18,742.93 831.98,742.93 827.08,751.83" fill="#000"/><polygon points="830.35,742.93 840.15,742.93 835.25,751.83" fill="#000"/><polygon points="838.53,742.93 848.33,742.93 843.43,751.83" fill="#000"/><polygon points="846.7,742.93 856.5,742.93 851.6,751.83" fill="#000"/><polygon points="854.88,751.6 864.68,751.6 859.78,760.5" fill="#000"/><polygon points="863.05,751.6 872.85,751.6 867.95,760.5" fill="#000"/><polygon points="871.23,760.26 881.02,760.26 876.12,769.16" fill="#000"/><polygon points="879.4,786.25 889.2,786.25 884.3,795.15" fill="#000"/><polygon points="887.58,820.9 897.38,820.9 892.48,829.8" fill="#000"/><polygon points="895.75,898.86 905.55,898.86 900.65,907.76" fill="#000"/><polygon points="903.93,933.52 913.73,933.52 908.83,942.42" fill="#000"/><polygon points="912.1,985.49 921.9,985.49 917,994.39" fill="#000"/><polygon points="920.28,994.16 930.08,994.16 925.18,1003.06" fill="#000"/><polygon points="928.45,1002.82 938.25,1002.82 933.35,1011.72" fill="#000"/><polygon points="936.63,1046.13 946.43,1046.13 941.53,1055.03" fill="#000"/>
<text class="p" x="1050" y="748">F</text>
<text class="p" x="1050" y="778.9">1F: 5M</text>
</g>
<g id="panel-G">
<path d="M1147.5 2.42V335.5M1139.5 335.5H1637.9M1143.5 323.39H1147.5M1143.5 311.28H1147.5M1143.5 299.16H1147.5M1143.5 287.05H1147.5M1139.5 274.94H1147.5M1143.5 262.83H1147.5M1143.5 250.72H1147.5M1143.5 238.6H1147.5M1143.5 226.49H1147.5M1139.5 214.38H1147.5M1143.5 202.27H1147.5M1143.5 190.16H1147.5M1143.5 178.04H1147.5M1143.5 165.93H1147.5M1139.5 153.82H1147.5M1143.5 141.71H1147.5M1143.5 129.6H1147.5M1143.5 117.48H1147.5M1143.5 105.37H1147.5M1139.5 93.26H1147.5M1143.5 81.15H1147.5M1143.5 69.04H1147.5M1143.5 56.92H1147.5M1143.5 44.81H1147.5M1139.5 32.7H1147.5M1143.5 20.59H1147.5M1143.5 8.48H1147.5M1147.8 335.5V341M1164.12 335.5V339.1M1180.44 335.5V339.1M1196.76 335.5V339.1M1213.08 335.5V339.1M1229.4 335.5V341M1245.72 335.5V339.1M1262.04 335.5V339.1M1278.36 335.5V339.1M1294.68 335.5V339.1M1311 335.5V341M1327.32 335.5V339.1M1343.64 335.5V339.1M1359.96 335.5V339.1M1376.28 335.5V339.1M1392.6 335.5V341M1408.92 335.5V339.1M1425.24 335.5V339.1M1441.56 335.5V339.1M1457.88 335.5V339.1M1474.2 335.5V341M1490.52 335.5V339.1M1506.84 335.5V339.1M1523.16 335.5V339.1M1539.48 335.5V339.1M1555.8 335.5V341M1572.12 335.5V339.1M1588.44 335.5V339.1M1604.76 335.5V339.1M1621.08 335.5V339.1M1637.4 335.5V341" fill="none" stroke="#000" stroke-width="1.15"/>
<polyline points="1147.8,32.7 1164.12,32.7 1172.28,295.13 1180.44,335.5" fill="none" stroke="#000" stroke-width="1.0" stroke-linejoin="round"/>
<polyline points="1172.28,335.5 1180.44,73.07 1188.6,32.7 1196.76,254.75 1204.92,335.5" fill="none" stroke="#000" stroke-width="1.0" stroke-linejoin="round"/>
<circle cx="1172.28" cy="335.5" r="4.7" fill="#000"/><circle cx="1180.44" cy="73.07" r="4.7" fill="#000"/><circle cx="1188.6" cy="32.7" r="4.7" fill="#000"/><circle cx="1196.76" cy="254.75" r="4.7" fill="#000"/><circle cx="1204.92" cy="335.5" r="4.7" fill="#000"/>
<polyline points="1188.6,335.5 1196.76,113.45 1204.92,32.7 1213.08,106.72 1221.24,308.58 1229.4,335.5" fill="none" stroke="#000" stroke-width="1.0" stroke-linejoin="round"/>
<rect x="1185.1" y="332" width="7" height="7" fill="#fff" stroke="#000" stroke-width="1"/><rect x="1193.26" y="109.95" width="7" height="7" fill="#fff" stroke="#000" stroke-width="1"/><rect x="1201.42" y="29.2" width="7" height="7" fill="#fff" stroke="#000" stroke-width="1"/><rect x="1209.58" y="103.22" width="7" height="7" fill="#fff" stroke="#000" stroke-width="1"/><rect x="1217.74" y="305.08" width="7" height="7" fill="#fff" stroke="#000" stroke-width="1"/><rect x="1225.9" y="332" width="7" height="7" fill="#fff" stroke="#000" stroke-width="1"/>
<polyline points="1204.92,335.5 1213.08,261.48 1221.24,93.26 1229.4,241.3 1237.56,322.04 1245.72,335.5" fill="none" stroke="#000" stroke-width="1.0" stroke-linejoin="round"/>
<polygon points="1204.92,330 1210.37,335.5 1204.92,341 1199.47,335.5" fill="#000"/><polygon points="1213.08,255.98 1218.53,261.48 1213.08,266.98 1207.63,261.48" fill="#000"/><polygon points="1221.24,87.76 1226.69,93.26 1221.24,98.76 1215.79,93.26" fill="#000"/><polygon points="1229.4,235.8 1234.85,241.3 1229.4,246.8 1223.95,241.3" fill="#000"/><polygon points="1237.56,316.54 1243.01,322.04 1237.56,327.54 1232.11,322.04" fill="#000"/><polygon points="1245.72,330 1251.17,335.5 1245.72,341 1240.27,335.5" fill="#000"/>
<polyline points="1213.08,335.5 1221.24,301.86 1229.4,126.9 1237.56,46.16 1245.72,160.55 1253.88,295.13 1262.04,335.5" fill="none" stroke="#000" stroke-width="1.0" stroke-linejoin="round"/>
<polygon points="1213.08,330.4 1208.83,338.07 1217.33,338.07" fill="#fff" stroke="#000" stroke-width="1" stroke-linejoin="miter"/><polygon points="1221.24,296.75 1216.99,304.42 1225.49,304.42" fill="#fff" stroke="#000" stroke-width="1" stroke-linejoin="miter"/><polygon points="1229.4,121.8 1225.15,129.47 1233.65,129.47" fill="#fff" stroke="#000" stroke-width="1" stroke-linejoin="miter"/><polygon points="1237.56,41.06 1233.31,48.72 1241.81,48.72" fill="#fff" stroke="#000" stroke-width="1" stroke-linejoin="miter"/><polygon points="1245.72,155.45 1241.47,163.12 1249.97,163.12" fill="#fff" stroke="#000" stroke-width="1" stroke-linejoin="miter"/><polygon points="1253.88,290.02 1249.63,297.69 1258.13,297.69" fill="#fff" stroke="#000" stroke-width="1" stroke-linejoin="miter"/><polygon points="1262.04,330.4 1257.79,338.07 1266.29,338.07" fill="#fff" stroke="#000" stroke-width="1" stroke-linejoin="miter"/>
<polyline points="1237.56,335.5 1245.72,207.65 1253.88,73.07 1262.04,32.7 1270.2,32.7 1278.36,32.7 1286.52,32.7 1294.68,32.7 1302.84,32.7 1311,32.7 1319.16,32.7 1327.32,32.7 1335.48,32.7 1343.64,32.7 1351.8,32.7 1359.96,32.7 1368.12,73.07 1376.28,99.99 1384.44,113.45 1392.6,126.9 1400.76,167.28 1408.92,207.65 1417.08,227.84 1425.24,254.75 1433.4,295.13 1441.56,335.5" fill="none" stroke="#000" stroke-width="1.0" stroke-linejoin="round"/>
<polygon points="1232.66,332.53 1242.46,332.53 1237.56,341.43" fill="#000"/><polygon points="1240.82,204.68 1250.62,204.68 1245.72,213.58" fill="#000"/><polygon points="1248.98,70.11 1258.78,70.11 1253.88,79.01" fill="#000"/><polygon points="1257.14,29.73 1266.94,29.73 1262.04,38.63" fill="#000"/><polygon points="1265.3,29.73 1275.1,29.73 1270.2,38.63" fill="#000"/><polygon points="1273.46,29.73 1283.26,29.73 1278.36,38.63" fill="#000"/><polygon points="1281.62,29.73 1291.42,29.73 1286.52,38.63" fill="#000"/><polygon points="1289.78,29.73 1299.58,29.73 1294.68,38.63" fill="#000"/><polygon points="1297.94,29.73 1307.74,29.73 1302.84,38.63" fill="#000"/><polygon points="1306.1,29.73 1315.9,29.73 1311,38.63" fill="#000"/><polygon points="1314.26,29.73 1324.06,29.73 1319.16,38.63" fill="#000"/><polygon points="1322.42,29.73 1332.22,29.73 1327.32,38.63" fill="#000"/><polygon points="1330.58,29.73 1340.38,29.73 1335.48,38.63" fill="#000"/><polygon points="1338.74,29.73 1348.54,29.73 1343.64,38.63" fill="#000"/><polygon points="1346.9,29.73 1356.7,29.73 1351.8,38.63" fill="#000"/><polygon points="1355.06,29.73 1364.86,29.73 1359.96,38.63" fill="#000"/><polygon points="1363.22,70.11 1373.02,70.11 1368.12,79.01" fill="#000"/><polygon points="1371.38,97.02 1381.18,97.02 1376.28,105.92" fill="#000"/><polygon points="1379.54,110.48 1389.34,110.48 1384.44,119.38" fill="#000"/><polygon points="1387.7,123.94 1397.5,123.94 1392.6,132.84" fill="#000"/><polygon points="1395.86,164.31 1405.66,164.31 1400.76,173.21" fill="#000"/><polygon points="1404.02,204.68 1413.82,204.68 1408.92,213.58" fill="#000"/><polygon points="1412.18,224.87 1421.98,224.87 1417.08,233.77" fill="#000"/><polygon points="1420.34,251.79 1430.14,251.79 1425.24,260.69" fill="#000"/><polygon points="1428.5,292.16 1438.3,292.16 1433.4,301.06" fill="#000"/><polygon points="1436.66,332.53 1446.46,332.53 1441.56,341.43" fill="#000"/>
<text class="p" x="1538.3" y="28.8">G</text>
<text class="p" x="1538.3" y="60.6">1F: 6M</text>
</g>
<g id="panel-H">
<path d="M1147.5 353.02V686.5M1139.5 686.5H1637.1M1143.5 673.99H1147.5M1143.5 661.88H1147.5M1143.5 649.76H1147.5M1143.5 637.65H1147.5M1139.5 625.54H1147.5M1143.5 613.43H1147.5M1143.5 601.32H1147.5M1143.5 589.2H1147.5M1143.5 577.09H1147.5M1139.5 564.98H1147.5M1143.5 552.87H1147.5M1143.5 540.76H1147.5M1143.5 528.64H1147.5M1143.5 516.53H1147.5M1139.5 504.42H1147.5M1143.5 492.31H1147.5M1143.5 480.2H1147.5M1143.5 468.08H1147.5M1143.5 455.97H1147.5M1139.5 443.86H1147.5M1143.5 431.75H1147.5M1143.5 419.64H1147.5M1143.5 407.52H1147.5M1143.5 395.41H1147.5M1139.5 383.3H1147.5M1143.5 371.19H1147.5M1143.5 359.08H1147.5M1147 686.5V692M1163.32 686.5V690.1M1179.64 686.5V690.1M1195.96 686.5V690.1M1212.28 686.5V690.1M1228.6 686.5V692M1244.92 686.5V690.1M1261.24 686.5V690.1M1277.56 686.5V690.1M1293.88 686.5V690.1M1310.2 686.5V692M1326.52 686.5V690.1M1342.84 686.5V690.1M1359.16 686.5V690.1M1375.48 686.5V690.1M1391.8 686.5V692M1408.12 686.5V690.1M1424.44 686.5V690.1M1440.76 686.5V690.1M1457.08 686.5V690.1M1473.4 686.5V692M1489.72 686.5V690.1M1506.04 686.5V690.1M1522.36 686.5V690.1M1538.68 686.5V690.1M1555 686.5V692M1571.32 686.5V690.1M1587.64 686.5V690.1M1603.96 686.5V690.1M1620.28 686.5V690.1M1636.6 686.5V692" fill="none" stroke="#000" stroke-width="1.15"/>
<polyline points="1147,383.3 1163.32,383.3 1171.48,654.23 1179.64,686.1" fill="none" stroke="#000" stroke-width="1.0" stroke-linejoin="round"/>
<polyline points="1171.48,686.1 1179.64,415.17 1187.8,383.3 1195.96,622.35 1204.12,686.1 1212.28,686.1 1220.44,686.1 1228.6,686.1 1236.76,686.1 1244.92,686.1 1253.08,686.1 1261.24,686.1" fill="none" stroke="#000" stroke-width="1.0" stroke-linejoin="round"/>
<circle cx="1171.48" cy="686.1" r="4.7" fill="#000"/><circle cx="1179.64" cy="415.17" r="4.7" fill="#000"/><circle cx="1187.8" cy="383.3" r="4.7" fill="#000"/><circle cx="1195.96" cy="622.35" r="4.7" fill="#000"/><circle cx="1204.12" cy="686.1" r="4.7" fill="#000"/><circle cx="1212.28" cy="686.1" r="4.7" fill="#000"/><circle cx="1220.44" cy="686.1" r="4.7" fill="#000"/><circle cx="1228.6" cy="686.1" r="4.7" fill="#000"/><circle cx="1236.76" cy="686.1" r="4.7" fill="#000"/><circle cx="1244.92" cy="686.1" r="4.7" fill="#000"/><circle cx="1253.08" cy="686.1" r="4.7" fill="#000"/><circle cx="1261.24" cy="686.1" r="4.7" fill="#000"/>
<polyline points="1187.8,686.1 1195.96,447.05 1204.12,383.3 1212.28,447.05 1220.44,654.23 1228.6,686.1 1236.76,686.1 1244.92,686.1 1253.08,686.1 1261.24,686.1" fill="none" stroke="#000" stroke-width="1.0" stroke-linejoin="round"/>
<rect x="1184.3" y="682.6" width="7" height="7" fill="#fff" stroke="#000" stroke-width="1"/><rect x="1192.46" y="443.55" width="7" height="7" fill="#fff" stroke="#000" stroke-width="1"/><rect x="1200.62" y="379.8" width="7" height="7" fill="#fff" stroke="#000" stroke-width="1"/><rect x="1208.78" y="443.55" width="7" height="7" fill="#fff" stroke="#000" stroke-width="1"/><rect x="1216.94" y="650.73" width="7" height="7" fill="#fff" stroke="#000" stroke-width="1"/><rect x="1225.1" y="682.6" width="7" height="7" fill="#fff" stroke="#000" stroke-width="1"/><rect x="1233.26" y="682.6" width="7" height="7" fill="#fff" stroke="#000" stroke-width="1"/><rect x="1241.42" y="682.6" width="7" height="7" fill="#fff" stroke="#000" stroke-width="1"/><rect x="1249.58" y="682.6" width="7" height="7" fill="#fff" stroke="#000" stroke-width="1"/><rect x="1257.74" y="682.6" width="7" height="7" fill="#fff" stroke="#000" stroke-width="1"/>
<polyline points="1204.12,686.1 1212.28,622.35 1220.44,447.05 1228.6,574.54 1236.76,670.16 1244.92,686.1 1253.08,686.1 1261.24,686.1" fill="none" stroke="#000" stroke-width="1.0" stroke-linejoin="round"/>
<polygon points="1204.12,680.6 1209.57,686.1 1204.12,691.6 1198.67,686.1" fill="#000"/><polygon points="1212.28,616.85 1217.73,622.35 1212.28,627.85 1206.83,622.35" fill="#000"/><polygon points="1220.44,441.55 1225.89,447.05 1220.44,452.55 1214.99,447.05" fill="#000"/><polygon points="1228.6,569.04 1234.05,574.54 1228.6,580.04 1223.15,574.54" fill="#000"/><polygon points="1236.76,664.66 1242.21,670.16 1236.76,675.66 1231.31,670.16" fill="#000"/><polygon points="1244.92,680.6 1250.37,686.1 1244.92,691.6 1239.47,686.1" fill="#000"/><polygon points="1253.08,680.6 1258.53,686.1 1253.08,691.6 1247.63,686.1" fill="#000"/><polygon points="1261.24,680.6 1266.69,686.1 1261.24,691.6 1255.79,686.1" fill="#000"/>
<polyline points="1212.28,686.1 1220.44,654.23 1228.6,494.86 1236.76,399.24 1244.92,494.86 1253.08,654.23 1261.24,686.1" fill="none" stroke="#000" stroke-width="1.0" stroke-linejoin="round"/>
<polygon points="1212.28,681 1208.03,688.67 1216.53,688.67" fill="#fff" stroke="#000" stroke-width="1" stroke-linejoin="miter"/><polygon points="1220.44,649.12 1216.19,656.79 1224.69,656.79" fill="#fff" stroke="#000" stroke-width="1" stroke-linejoin="miter"/><polygon points="1228.6,489.76 1224.35,497.42 1232.85,497.42" fill="#fff" stroke="#000" stroke-width="1" stroke-linejoin="miter"/><polygon points="1236.76,394.13 1232.51,401.8 1241.01,401.8" fill="#fff" stroke="#000" stroke-width="1" stroke-linejoin="miter"/><polygon points="1244.92,489.76 1240.67,497.42 1249.17,497.42" fill="#fff" stroke="#000" stroke-width="1" stroke-linejoin="miter"/><polygon points="1253.08,649.12 1248.83,656.79 1257.33,656.79" fill="#fff" stroke="#000" stroke-width="1" stroke-linejoin="miter"/><polygon points="1261.24,681 1256.99,688.67 1265.49,688.67" fill="#fff" stroke="#000" stroke-width="1" stroke-linejoin="miter"/>
<polyline points="1236.76,686.1 1244.92,574.54 1253.08,415.17 1261.24,383.3 1269.4,383.3 1277.56,383.3 1285.72,383.3 1293.88,383.3 1302.04,383.3 1310.2,383.3 1318.36,383.3 1326.52,383.3 1334.68,383.3 1342.84,383.3 1351,383.3 1359.16,383.3 1367.32,383.3 1375.48,383.3 1383.64,383.3 1391.8,399.24 1399.96,407.21 1408.12,423.14 1416.28,486.89 1424.44,534.7 1432.6,558.61 1440.76,558.61 1448.92,558.61 1457.08,622.35 1465.24,638.29 1473.4,654.23 1481.56,662.19 1489.72,678.13 1497.88,686.1" fill="none" stroke="#000" stroke-width="1.0" stroke-linejoin="round"/>
<polygon points="1231.86,683.13 1241.66,683.13 1236.76,692.03" fill="#000"/><polygon points="1240.02,571.58 1249.82,571.58 1244.92,580.48" fill="#000"/><polygon points="1248.18,412.21 1257.98,412.21 1253.08,421.11" fill="#000"/><polygon points="1256.34,380.33 1266.14,380.33 1261.24,389.23" fill="#000"/><polygon points="1264.5,380.33 1274.3,380.33 1269.4,389.23" fill="#000"/><polygon points="1272.66,380.33 1282.46,380.33 1277.56,389.23" fill="#000"/><polygon points="1280.82,380.33 1290.62,380.33 1285.72,389.23" fill="#000"/><polygon points="1288.98,380.33 1298.78,380.33 1293.88,389.23" fill="#000"/><polygon points="1297.14,380.33 1306.94,380.33 1302.04,389.23" fill="#000"/><polygon points="1305.3,380.33 1315.1,380.33 1310.2,389.23" fill="#000"/><polygon points="1313.46,380.33 1323.26,380.33 1318.36,389.23" fill="#000"/><polygon points="1321.62,380.33 1331.42,380.33 1326.52,389.23" fill="#000"/><polygon points="1329.78,380.33 1339.58,380.33 1334.68,389.23" fill="#000"/><polygon points="1337.94,380.33 1347.74,380.33 1342.84,389.23" fill="#000"/><polygon points="1346.1,380.33 1355.9,380.33 1351,389.23" fill="#000"/><polygon points="1354.26,380.33 1364.06,380.33 1359.16,389.23" fill="#000"/><polygon points="1362.42,380.33 1372.22,380.33 1367.32,389.23" fill="#000"/><polygon points="1370.58,380.33 1380.38,380.33 1375.48,389.23" fill="#000"/><polygon points="1378.74,380.33 1388.54,380.33 1383.64,389.23" fill="#000"/><polygon points="1386.9,396.27 1396.7,396.27 1391.8,405.17" fill="#000"/><polygon points="1395.06,404.24 1404.86,404.24 1399.96,413.14" fill="#000"/><polygon points="1403.22,420.18 1413.02,420.18 1408.12,429.08" fill="#000"/><polygon points="1411.38,483.92 1421.18,483.92 1416.28,492.82" fill="#000"/><polygon points="1419.54,531.73 1429.34,531.73 1424.44,540.63" fill="#000"/><polygon points="1427.7,555.64 1437.5,555.64 1432.6,564.54" fill="#000"/><polygon points="1435.86,555.64 1445.66,555.64 1440.76,564.54" fill="#000"/><polygon points="1444.02,555.64 1453.82,555.64 1448.92,564.54" fill="#000"/><polygon points="1452.18,619.39 1461.98,619.39 1457.08,628.29" fill="#000"/><polygon points="1460.34,635.32 1470.14,635.32 1465.24,644.22" fill="#000"/><polygon points="1468.5,651.26 1478.3,651.26 1473.4,660.16" fill="#000"/><polygon points="1476.66,659.23 1486.46,659.23 1481.56,668.13" fill="#000"/><polygon points="1484.82,675.16 1494.62,675.16 1489.72,684.06" fill="#000"/><polygon points="1492.98,683.13 1502.78,683.13 1497.88,692.03" fill="#000"/>
<text class="p" x="1544" y="388">H</text>
<text class="p" x="1544" y="418.9">1F: nM</text>
</g>
<g id="panel-I">
<path d="M1147.5 715.49V1048.5M1139.5 1048.5H1637.8M1143.5 1036.78H1147.5M1143.5 1024.65H1147.5M1143.5 1012.53H1147.5M1143.5 1000.4H1147.5M1139.5 988.28H1147.5M1143.5 976.16H1147.5M1143.5 964.03H1147.5M1143.5 951.91H1147.5M1143.5 939.78H1147.5M1139.5 927.66H1147.5M1143.5 915.54H1147.5M1143.5 903.41H1147.5M1143.5 891.29H1147.5M1143.5 879.16H1147.5M1139.5 867.04H1147.5M1143.5 854.92H1147.5M1143.5 842.79H1147.5M1143.5 830.67H1147.5M1143.5 818.54H1147.5M1139.5 806.42H1147.5M1143.5 794.3H1147.5M1143.5 782.17H1147.5M1143.5 770.05H1147.5M1143.5 757.92H1147.5M1139.5 745.8H1147.5M1143.5 733.68H1147.5M1143.5 721.55H1147.5M1147.4 1048.5V1056.5M1163.73 1048.5V1052.5M1180.06 1048.5V1052.5M1196.39 1048.5V1052.5M1212.72 1048.5V1052.5M1229.05 1048.5V1056.5M1245.38 1048.5V1052.5M1261.71 1048.5V1052.5M1278.04 1048.5V1052.5M1294.37 1048.5V1052.5M1310.7 1048.5V1056.5M1327.03 1048.5V1052.5M1343.36 1048.5V1052.5M1359.69 1048.5V1052.5M1376.02 1048.5V1052.5M1392.35 1048.5V1056.5M1408.68 1048.5V1052.5M1425.01 1048.5V1052.5M1441.34 1048.5V1052.5M1457.67 1048.5V1052.5M1474 1048.5V1056.5M1490.33 1048.5V1052.5M1506.66 1048.5V1052.5M1522.99 1048.5V1052.5M1539.32 1048.5V1052.5M1555.65 1048.5V1056.5M1571.98 1048.5V1052.5M1588.31 1048.5V1052.5M1604.64 1048.5V1052.5M1620.97 1048.5V1052.5M1637.3 1048.5V1056.5" fill="none" stroke="#000" stroke-width="1.15"/>
<text class="t" transform="translate(1147.4 1087.5) scale(1 1.04)" text-anchor="middle">0</text>
<text class="t" transform="translate(1229.05 1087.5) scale(1 1.04)" text-anchor="middle">10</text>
<text class="t" transform="translate(1310.7 1087.5) scale(1 1.04)" text-anchor="middle">20</text>
<text class="t" transform="translate(1392.35 1087.5) scale(1 1.04)" text-anchor="middle">30</text>
<text class="t" transform="translate(1474 1087.5) scale(1 1.04)" text-anchor="middle">40</text>
<text class="t" transform="translate(1555.65 1087.5) scale(1 1.04)" text-anchor="middle">50</text>
<text class="t" transform="translate(1637.3 1087.5) scale(1 1.04)" text-anchor="middle">60</text>
<polyline points="1147.4,745.8 1163.73,745.8 1171.89,1019.18 1180.06,1048.9" fill="none" stroke="#000" stroke-width="1.0" stroke-linejoin="round"/>
<polyline points="1171.89,1048.9 1180.06,775.52 1188.23,745.8 1196.39,995.41 1204.56,1048.9" fill="none" stroke="#000" stroke-width="1.0" stroke-linejoin="round"/>
<circle cx="1171.89" cy="1048.9" r="4.7" fill="#000"/><circle cx="1180.06" cy="775.52" r="4.7" fill="#000"/><circle cx="1188.23" cy="745.8" r="4.7" fill="#000"/><circle cx="1196.39" cy="995.41" r="4.7" fill="#000"/><circle cx="1204.56" cy="1048.9" r="4.7" fill="#000"/>
<polyline points="1188.23,1048.9 1196.39,799.29 1204.56,745.8 1212.72,834.95 1220.88,1025.13 1229.05,1048.9" fill="none" stroke="#000" stroke-width="1.0" stroke-linejoin="round"/>
<rect x="1184.73" y="1045.4" width="7" height="7" fill="#fff" stroke="#000" stroke-width="1"/><rect x="1192.89" y="795.79" width="7" height="7" fill="#fff" stroke="#000" stroke-width="1"/><rect x="1201.06" y="742.3" width="7" height="7" fill="#fff" stroke="#000" stroke-width="1"/><rect x="1209.22" y="831.45" width="7" height="7" fill="#fff" stroke="#000" stroke-width="1"/><rect x="1217.38" y="1021.63" width="7" height="7" fill="#fff" stroke="#000" stroke-width="1"/><rect x="1225.55" y="1045.4" width="7" height="7" fill="#fff" stroke="#000" stroke-width="1"/>
<polyline points="1204.56,1048.9 1212.72,959.75 1220.88,823.06 1229.05,953.81 1237.22,1037.01 1245.38,1048.9" fill="none" stroke="#000" stroke-width="1.0" stroke-linejoin="round"/>
<polygon points="1204.56,1043.4 1210.01,1048.9 1204.56,1054.4 1199.11,1048.9" fill="#000"/><polygon points="1212.72,954.25 1218.17,959.75 1212.72,965.25 1207.27,959.75" fill="#000"/><polygon points="1220.88,817.56 1226.34,823.06 1220.88,828.56 1215.43,823.06" fill="#000"/><polygon points="1229.05,948.31 1234.5,953.81 1229.05,959.31 1223.6,953.81" fill="#000"/><polygon points="1237.22,1031.51 1242.67,1037.01 1237.22,1042.51 1231.77,1037.01" fill="#000"/><polygon points="1245.38,1043.4 1250.83,1048.9 1245.38,1054.4 1239.93,1048.9" fill="#000"/>
<polyline points="1212.72,1048.9 1220.88,995.41 1229.05,840.89 1237.22,781.46 1245.38,894.38 1253.55,1025.13 1261.71,1048.9" fill="none" stroke="#000" stroke-width="1.0" stroke-linejoin="round"/>
<polygon points="1212.72,1043.8 1208.47,1051.47 1216.97,1051.47" fill="#fff" stroke="#000" stroke-width="1" stroke-linejoin="miter"/><polygon points="1220.88,990.31 1216.63,997.98 1225.14,997.98" fill="#fff" stroke="#000" stroke-width="1" stroke-linejoin="miter"/><polygon points="1229.05,835.79 1224.8,843.46 1233.3,843.46" fill="#fff" stroke="#000" stroke-width="1" stroke-linejoin="miter"/><polygon points="1237.22,776.36 1232.96,784.03 1241.47,784.03" fill="#fff" stroke="#000" stroke-width="1" stroke-linejoin="miter"/><polygon points="1245.38,889.28 1241.13,896.95 1249.63,896.95" fill="#fff" stroke="#000" stroke-width="1" stroke-linejoin="miter"/><polygon points="1253.55,1020.03 1249.29,1027.69 1257.8,1027.69" fill="#fff" stroke="#000" stroke-width="1" stroke-linejoin="miter"/><polygon points="1261.71,1043.8 1257.46,1051.47 1265.96,1051.47" fill="#fff" stroke="#000" stroke-width="1" stroke-linejoin="miter"/>
<polyline points="1237.22,1048.9 1245.38,965.7 1253.55,846.83 1261.71,823.06 1269.88,823.06 1278.04,823.06 1286.21,823.06 1294.37,823.06 1302.54,823.06 1310.7,823.06 1318.87,823.06 1327.03,823.06 1335.2,823.06 1343.36,823.06 1351.53,834.95 1359.69,870.61 1367.86,894.38 1376.02,906.26 1384.18,918.15 1392.35,947.87 1400.52,965.7 1408.68,977.58 1416.85,977.58 1425.01,995.41 1433.18,1019.18 1441.34,1037.01 1449.51,1037.01 1457.67,1048.9" fill="none" stroke="#000" stroke-width="1.0" stroke-linejoin="round"/>
<polygon points="1232.32,1045.93 1242.12,1045.93 1237.22,1054.83" fill="#000"/><polygon points="1240.48,962.73 1250.28,962.73 1245.38,971.63" fill="#000"/><polygon points="1248.64,843.87 1258.45,843.87 1253.55,852.77" fill="#000"/><polygon points="1256.81,820.09 1266.61,820.09 1261.71,828.99" fill="#000"/><polygon points="1264.97,820.09 1274.78,820.09 1269.88,828.99" fill="#000"/><polygon points="1273.14,820.09 1282.94,820.09 1278.04,828.99" fill="#000"/><polygon points="1281.31,820.09 1291.11,820.09 1286.21,828.99" fill="#000"/><polygon points="1289.47,820.09 1299.27,820.09 1294.37,828.99" fill="#000"/><polygon points="1297.63,820.09 1307.44,820.09 1302.54,828.99" fill="#000"/><polygon points="1305.8,820.09 1315.6,820.09 1310.7,828.99" fill="#000"/><polygon points="1313.96,820.09 1323.77,820.09 1318.87,828.99" fill="#000"/><polygon points="1322.13,820.09 1331.93,820.09 1327.03,828.99" fill="#000"/><polygon points="1330.3,820.09 1340.1,820.09 1335.2,828.99" fill="#000"/><polygon points="1338.46,820.09 1348.26,820.09 1343.36,828.99" fill="#000"/><polygon points="1346.62,831.98 1356.43,831.98 1351.53,840.88" fill="#000"/><polygon points="1354.79,867.64 1364.59,867.64 1359.69,876.54" fill="#000"/><polygon points="1362.95,891.41 1372.76,891.41 1367.86,900.31" fill="#000"/><polygon points="1371.12,903.3 1380.92,903.3 1376.02,912.2" fill="#000"/><polygon points="1379.28,915.18 1389.09,915.18 1384.18,924.08" fill="#000"/><polygon points="1387.45,944.9 1397.25,944.9 1392.35,953.8" fill="#000"/><polygon points="1395.62,962.73 1405.42,962.73 1400.52,971.63" fill="#000"/><polygon points="1403.78,974.62 1413.58,974.62 1408.68,983.52" fill="#000"/><polygon points="1411.94,974.62 1421.75,974.62 1416.85,983.52" fill="#000"/><polygon points="1420.11,992.45 1429.91,992.45 1425.01,1001.35" fill="#000"/><polygon points="1428.28,1016.22 1438.08,1016.22 1433.18,1025.12" fill="#000"/><polygon points="1436.44,1034.05 1446.24,1034.05 1441.34,1042.95" fill="#000"/><polygon points="1444.61,1034.05 1454.41,1034.05 1449.51,1042.95" fill="#000"/><polygon points="1452.77,1045.93 1462.57,1045.93 1457.67,1054.83" fill="#000"/>
<polyline points="1229.05,1048.9 1237.22,1025.13 1245.38,983.53 1253.55,971.64 1261.71,971.64 1269.88,971.64 1278.04,971.64 1286.21,971.64 1294.37,971.64 1302.54,977.58 1310.7,989.47 1318.87,1007.3 1327.03,1025.13 1335.2,1037.01 1343.36,1048.9" fill="none" stroke="#000" stroke-width="1.0" stroke-linejoin="round"/>
<circle cx="1229.05" cy="1048.9" r="4.2" fill="#fff" stroke="#000" stroke-width="1"/><circle cx="1237.22" cy="1025.13" r="4.2" fill="#fff" stroke="#000" stroke-width="1"/><circle cx="1245.38" cy="983.53" r="4.2" fill="#fff" stroke="#000" stroke-width="1"/><circle cx="1253.55" cy="971.64" r="4.2" fill="#fff" stroke="#000" stroke-width="1"/><circle cx="1261.71" cy="971.64" r="4.2" fill="#fff" stroke="#000" stroke-width="1"/><circle cx="1269.88" cy="971.64" r="4.2" fill="#fff" stroke="#000" stroke-width="1"/><circle cx="1278.04" cy="971.64" r="4.2" fill="#fff" stroke="#000" stroke-width="1"/><circle cx="1286.21" cy="971.64" r="4.2" fill="#fff" stroke="#000" stroke-width="1"/><circle cx="1294.37" cy="971.64" r="4.2" fill="#fff" stroke="#000" stroke-width="1"/><circle cx="1302.54" cy="977.58" r="4.2" fill="#fff" stroke="#000" stroke-width="1"/><circle cx="1310.7" cy="989.47" r="4.2" fill="#fff" stroke="#000" stroke-width="1"/><circle cx="1318.87" cy="1007.3" r="4.2" fill="#fff" stroke="#000" stroke-width="1"/><circle cx="1327.03" cy="1025.13" r="4.2" fill="#fff" stroke="#000" stroke-width="1"/><circle cx="1335.2" cy="1037.01" r="4.2" fill="#fff" stroke="#000" stroke-width="1"/><circle cx="1343.36" cy="1048.9" r="4.2" fill="#fff" stroke="#000" stroke-width="1"/>
<text class="p" x="1539.7" y="741.7">I</text>
<text class="p" x="1539.7" y="772.9">Two-sex</text>
</g>
<g id="legend">
<path d="M1462.1 105.3H1506" stroke="#000" stroke-width="1.0" fill="none"/>
<text class="l" x="1517.2" y="111.7">Egg</text>
<path d="M1462.1 129.05H1506" stroke="#000" stroke-width="1.0" fill="none"/>
<circle cx="1484" cy="129.05" r="4.7" fill="#000"/>
<text class="l" x="1517.2" y="135.45">1st instar</text>
<path d="M1462.1 152.8H1506" stroke="#000" stroke-width="1.0" fill="none"/>
<rect x="1480.5" y="149.3" width="7" height="7" fill="#fff" stroke="#000" stroke-width="1"/>
<text class="l" x="1517.2" y="159.2">2nd instar</text>
<path d="M1462.1 176.55H1506" stroke="#000" stroke-width="1.0" fill="none"/>
<polygon points="1484,171.05 1489.45,176.55 1484,182.05 1478.55,176.55" fill="#000"/>
<text class="l" x="1517.2" y="182.95">Prepupa</text>
<path d="M1462.1 200.3H1506" stroke="#000" stroke-width="1.0" fill="none"/>
<polygon points="1484,195.2 1479.75,202.87 1488.25,202.87" fill="#fff" stroke="#000" stroke-width="1" stroke-linejoin="miter"/>
<text class="l" x="1517.2" y="206.7">Pupa</text>
<path d="M1462.1 224.05H1506" stroke="#000" stroke-width="1.0" fill="none"/>
<polygon points="1479.1,221.08 1488.9,221.08 1484,229.98" fill="#000"/>
<text class="l" x="1517.2" y="230.45">Female</text>
<path d="M1462.1 247.8H1506" stroke="#000" stroke-width="1.0" fill="none"/>
<circle cx="1484" cy="247.8" r="4.2" fill="#fff" stroke="#000" stroke-width="1"/>
<text class="l" x="1517.2" y="254.2">Male</text>
</g>
<text class="a" x="867.5" y="1135" text-anchor="middle">Age (day)</text>
<text class="a" transform="translate(25.8 646.6) rotate(-90)">Survival rate (<tspan font-style="italic" font-size="35">s</tspan><tspan font-style="italic" font-size="34" dy="5.5">xj</tspan><tspan dy="-5.5">)</tspan></text>
</svg></body></html>
